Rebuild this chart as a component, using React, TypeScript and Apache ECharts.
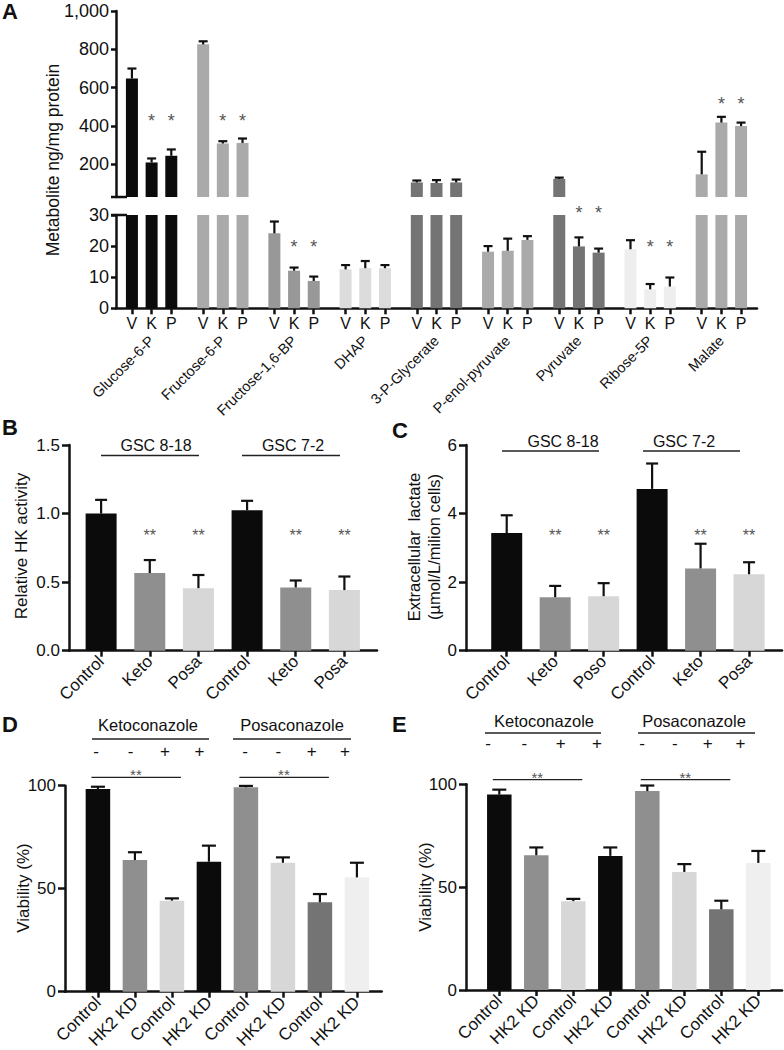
import React, { useEffect, useRef } from 'react';
import * as echarts from 'echarts';

const FONT = '"Liberation Sans", Arial, Helvetica, sans-serif';
const INK = '#111111';
const STAR = '#555555';

// ---------- Panel A: metabolites (V vehicle, K ketoconazole, P posaconazole)
const metabolites = ['Glucose-6-P', 'Fructose-6-P', 'Fructose-1,6-BP', 'DHAP', '3-P-Glycerate', 'P-enol-pyruvate', 'Pyruvate', 'Ribose-5P', 'Malate'];
const treatmentCodes = ['V', 'K', 'P'];
const metaboliteColors = ['#0b0b0b', '#aaaaaa', '#989898', '#dcdcdc', '#747474', '#aaaaaa', '#747474', '#eeeeee', '#aaaaaa'];
const vehicleValues = [648, 826, 24.1, 12.5, 106, 18.2, 124, 19.0, 148];
const ketoValues = [210, 309, 12.1, 12.9, 103, 18.5, 19.9, 6.1, 418];
const posaValues = [245, 312, 8.8, 12.9, 106, 22.0, 17.9, 7.0, 400];
const vehicleErr = [52, 16, 3.8, 1.4, 10, 1.8, 7, 2.9, 118];
const ketoErr = [21, 12, 1.0, 2.3, 15, 3.9, 2.9, 1.7, 30];
const posaErr = [33, 23, 1.4, 1.0, 15, 1.2, 1.3, 2.9, 18];
const starredMetabolites = [0, 1, 2, 6, 7, 8];
const starLevels = [446, 446, 21, 32, 21, 534];
const starSegments = ['upper', 'upper', 'lower', 'lower', 'lower', 'upper'];
const upperTicks = [200, 400, 600, 800, 1000];
const breakValue = 30;

// ---------- Panel B: HK activity
const hkLabels = ['Control', 'Keto', 'Posa', 'Control', 'Keto', 'Posa'];
const hkActivity = [1.0, 0.566, 0.456, 1.024, 0.461, 0.442];
const hkError = [0.10, 0.095, 0.096, 0.069, 0.051, 0.099];
const hkStarred = [1, 2, 4, 5];
const hkStarLevel = 0.87;

// ---------- Panel C: lactate
const lactateLabels = ['Control', 'Keto', 'Poso', 'Control', 'Keto', 'Posa'];
const lactate = [3.43, 1.56, 1.59, 4.72, 2.40, 2.23];
const lactateErr = [0.52, 0.33, 0.38, 0.74, 0.72, 0.35];
const lactateStarred = [1, 2, 4, 5];
const lactateStarLevel = 3.48;

const treatmentColors = ['#0b0b0b', '#8f8f8f', '#d7d7d7', '#0b0b0b', '#8f8f8f', '#d7d7d7'];

// ---------- Panels D, E: viability
const viabilityLabels = ['Control', 'HK2 KD', 'Control', 'HK2 KD', 'Control', 'HK2 KD', 'Control', 'HK2 KD'];
const viabilityColors = ['#0b0b0b', '#8f8f8f', '#d7d7d7', '#0b0b0b', '#8f8f8f', '#d7d7d7', '#747474', '#efefef'];
const drugSigns = ['-', '-', '+', '+'];
const viabilityD = [98.4, 63.9, 44.2, 63.1, 99.2, 62.6, 43.4, 55.5];
const viabilityDErr = [1.1, 3.8, 1.1, 7.8, 0.7, 2.6, 4.0, 7.1];
const viabilityE = [95.0, 65.5, 43.2, 65.2, 96.7, 57.4, 39.2, 61.8];
const viabilityEErr = [2.4, 3.8, 1.1, 4.1, 2.7, 3.8, 4.2, 5.8];
const sigPairs = [[0, 2], [4, 6]];
const sigLevelD = 104;
const sigLevelE = 102.3;

function buildOption() {
  const axisLine = { show: true, onZero: false, lineStyle: { color: INK, width: 2.5 } };
  const tick = (len: number, extra: any = {}) => ({ show: true, inside: false, length: len, lineStyle: { color: INK, width: 2.5 }, ...extra });
  const lbl = (extra: any = {}) => ({ color: INK, fontFamily: FONT, fontSize: 17, ...extra });
  const noSplit = { show: false };

  const A_LEFT = 116;
  const A_W = 641;
  const A_CAT = A_W / metabolites.length;
  const A_BAR = 12;
  const A_STEP = A_BAR * 1.64;
  const subUnit = A_STEP / A_CAT;
  const vkpPositions = metabolites.flatMap((_, i) => treatmentCodes.map((__, j) => i + 0.5 + (j - 1) * subUnit));

  const grids = [
    { left: A_LEFT, top: 11, width: A_W, height: 186 },
    { left: A_LEFT, top: 215, width: A_W, height: 93.3 },
    { left: 69, top: 445, width: 308, height: 205.7 },
    { left: 466, top: 445, width: 316, height: 205.7 },
    { left: 65, top: 785.7, width: 316.7, height: 206 },
    { left: 466, top: 784.3, width: 316, height: 205.7 },
  ].map((g) => ({ ...g, containLabel: false, outerBoundsMode: 'none' }));

  const valueXAxis = (gi: number, labels: string[], min: number, max: number) => {
    const pos = labels.map((_, i) => i);
    return {
      gridIndex: gi, type: 'value', min, max,
      axisLine, splitLine: noSplit,
      axisTick: tick(6, { customValues: pos }),
      axisLabel: lbl({ customValues: pos, rotate: 45, margin: 8, fontSize: 17, formatter: (v: number) => labels[Math.round(v)] }),
    };
  };

  const xAxes = [
    { gridIndex: 0, type: 'category', data: metabolites, show: false },
    {
      gridIndex: 1, type: 'category', data: metabolites, position: 'bottom',
      axisLine, axisTick: { show: false },
      axisLabel: lbl({ interval: 0, rotate: 45, margin: 30, fontSize: 14.5 }),
    },
    {
      gridIndex: 1, type: 'value', min: 0, max: metabolites.length, position: 'bottom',
      axisLine: { show: false }, splitLine: noSplit,
      axisTick: tick(6, { customValues: vkpPositions }),
      axisLabel: lbl({
        customValues: vkpPositions, margin: 7, fontSize: 16,
        formatter: (v: number) => {
          const i = Math.floor(v);
          const j = Math.round((v - i - 0.5) / subUnit) + 1;
          return treatmentCodes[j] || '';
        },
      }),
    },
    valueXAxis(2, hkLabels, -0.66, 5.67),
    valueXAxis(3, lactateLabels, -0.84, 5.68),
    valueXAxis(4, viabilityLabels, -0.89, 7.67),
    valueXAxis(5, viabilityLabels, -0.9, 7.64),
  ];

  const yAxes = [
    {
      gridIndex: 0, type: 'value', min: breakValue, max: 1000, axisLine, splitLine: noSplit,
      axisTick: tick(5, { customValues: upperTicks }),
      axisLabel: lbl({ customValues: upperTicks, margin: 7, fontSize: 18, formatter: (v: number) => v.toLocaleString('en-US') }),
    },
    {
      gridIndex: 1, type: 'value', min: 0, max: breakValue, interval: 10, axisLine, splitLine: noSplit,
      axisTick: tick(5), axisLabel: lbl({ margin: 7, fontSize: 18 }),
    },
    {
      gridIndex: 2, type: 'value', min: 0, max: 1.5, interval: 0.5, axisLine, splitLine: noSplit,
      axisTick: tick(7), axisLabel: lbl({ margin: 9, formatter: (v: number) => v.toFixed(1) }),
    },
    {
      gridIndex: 3, type: 'value', min: 0, max: 6, interval: 2, axisLine, splitLine: noSplit,
      axisTick: tick(7), axisLabel: lbl({ margin: 9 }),
    },
    {
      gridIndex: 4, type: 'value', min: 0, max: 100, interval: 50, axisLine, splitLine: noSplit,
      axisTick: tick(7), axisLabel: lbl({ margin: 9 }),
    },
    {
      gridIndex: 5, type: 'value', min: 0, max: 100, interval: 50, axisLine, splitLine: noSplit,
      axisTick: tick(7), axisLabel: lbl({ margin: 9 }),
    },
  ];

  const groupsA = [vehicleValues, ketoValues, posaValues];
  const errsA = [vehicleErr, ketoErr, posaErr];

  const barsA: any[] = [];
  treatmentCodes.forEach((code, j) => {
    barsA.push({
      type: 'bar', name: code + '-upper', xAxisIndex: 0, yAxisIndex: 0, barWidth: A_BAR, barGap: '64%',
      data: groupsA[j].map((v, i) => ({ value: v > breakValue ? v : '-', itemStyle: { color: metaboliteColors[i] } })),
    });
    barsA.push({
      type: 'bar', name: code + '-lower', xAxisIndex: 1, yAxisIndex: 1, barWidth: A_BAR, barGap: '64%',
      data: groupsA[j].map((v, i) => ({ value: v, itemStyle: { color: metaboliteColors[i] } })),
    });
  });

  const errItemsA = (upper: boolean) =>
    groupsA.flatMap((vals, j) => vals.map((v, i) => [i, j, v, v + errsA[j][i]]))
      .filter((d) => (upper ? d[2] > breakValue : d[2] <= breakValue));

  const errLineStyle = { stroke: INK, lineWidth: 2.2 };

  const renderErrA = (_: any, api: any) => {
    const cat = api.value(0);
    const sub = api.value(1);
    const p0 = api.coord([cat, api.value(2)]);
    const p1 = api.coord([cat, api.value(3)]);
    const x = p0[0] + (sub - 1) * A_STEP;
    return {
      type: 'group', children: [
        { type: 'line', shape: { x1: x, y1: p0[1], x2: x, y2: p1[1] }, style: errLineStyle },
        { type: 'line', shape: { x1: x - 4.5, y1: p1[1], x2: x + 4.5, y2: p1[1] }, style: errLineStyle },
      ],
    };
  };

  const starText = (x: number, y: number, text: string, fs: number) => ({
    type: 'text', x, y: y + 0.23 * fs,
    style: { text, fill: STAR, fontSize: fs, fontFamily: FONT, align: 'center', verticalAlign: 'middle' },
  });

  const starItemsA = (seg: string) =>
    starredMetabolites.flatMap((g, k) => (starSegments[k] === seg ? [[g, 1, starLevels[k]], [g, 2, starLevels[k]]] : []));

  const renderStarA = (_: any, api: any) => {
    const p = api.coord([api.value(0), api.value(2)]);
    return starText(p[0] + (api.value(1) - 1) * A_STEP, p[1], '*', 18);
  };

  const errSeries = (xi: number, yi: number, vals: number[], errs: number[], cap: number) => ({
    type: 'custom', xAxisIndex: xi, yAxisIndex: yi, encode: { x: 0, y: 1 }, z: 5,
    data: vals.map((v, i) => [i, v, v + errs[i]]),
    renderItem: (_: any, api: any) => {
      const p0 = api.coord([api.value(0), api.value(1)]);
      const p1 = api.coord([api.value(0), api.value(2)]);
      return {
        type: 'group', children: [
          { type: 'line', shape: { x1: p0[0], y1: p0[1], x2: p0[0], y2: p1[1] }, style: errLineStyle },
          { type: 'line', shape: { x1: p0[0] - cap / 2, y1: p1[1], x2: p0[0] + cap / 2, y2: p1[1] }, style: errLineStyle },
        ],
      };
    },
  });

  const barSeries = (xi: number, yi: number, vals: number[], colors: string[], width: number) => ({
    type: 'bar', xAxisIndex: xi, yAxisIndex: yi, barWidth: width,
    data: vals.map((v, i) => ({ value: [i, v], itemStyle: { color: colors[i] } })),
  });

  const starSeries = (xi: number, yi: number, idx: number[], level: number) => ({
    type: 'custom', xAxisIndex: xi, yAxisIndex: yi, encode: { x: 0, y: 1 }, z: 5,
    data: idx.map((i) => [i, level]),
    renderItem: (_: any, api: any) => {
      const p = api.coord([api.value(0), api.value(1)]);
      return starText(p[0], p[1], '**', 16);
    },
  });

  const sigSeries = (xi: number, yi: number, level: number) => ({
    type: 'custom', xAxisIndex: xi, yAxisIndex: yi, encode: { x: [0, 1], y: 2 }, z: 5,
    data: sigPairs.map(([a, b]) => [a, b, level]),
    renderItem: (_: any, api: any) => {
      const a = api.coord([api.value(0), api.value(2)]);
      const b = api.coord([api.value(1), api.value(2)]);
      return {
        type: 'group', children: [
          { type: 'line', shape: { x1: a[0] - 6.5, y1: a[1], x2: b[0] + 9, y2: a[1] }, style: { stroke: '#222', lineWidth: 1.3 } },
          starText((a[0] + b[0]) / 2 + 1, a[1] - 6, '**', 15),
        ],
      };
    },
  });

  const series: any[] = [
    ...barsA,
    { type: 'custom', xAxisIndex: 0, yAxisIndex: 0, encode: { x: 0, y: 2 }, z: 5, data: errItemsA(true), renderItem: renderErrA },
    { type: 'custom', xAxisIndex: 1, yAxisIndex: 1, encode: { x: 0, y: 2 }, z: 5, data: errItemsA(false), renderItem: renderErrA },
    { type: 'custom', xAxisIndex: 0, yAxisIndex: 0, encode: { x: 0, y: 2 }, z: 5, data: starItemsA('upper'), renderItem: renderStarA },
    { type: 'custom', xAxisIndex: 1, yAxisIndex: 1, encode: { x: 0, y: 2 }, z: 5, data: starItemsA('lower'), renderItem: renderStarA },

    barSeries(3, 2, hkActivity, treatmentColors, 31),
    errSeries(3, 2, hkActivity, hkError, 12),
    starSeries(3, 2, hkStarred, hkStarLevel),

    barSeries(4, 3, lactate, treatmentColors, 31),
    errSeries(4, 3, lactate, lactateErr, 12),
    starSeries(4, 3, lactateStarred, lactateStarLevel),

    barSeries(5, 4, viabilityD, viabilityColors, 24.5),
    errSeries(5, 4, viabilityD, viabilityDErr, 14),
    sigSeries(5, 4, sigLevelD),

    barSeries(6, 5, viabilityE, viabilityColors, 24.5),
    errSeries(6, 5, viabilityE, viabilityEErr, 14),
    sigSeries(6, 5, sigLevelE),
  ];

  // ---------- annotations (layout)
  const text = (t: string, x: number, y: number, fs: number, extra: any = {}) => ({
    type: 'text', x, y, silent: true,
    style: { text: t, fill: INK, fontSize: fs, fontFamily: FONT, align: 'center', verticalAlign: 'middle', ...extra },
  });
  const vtext = (t: string, x: number, y: number, fs: number, extra: any = {}) => ({
    ...text(t, x, y, fs, extra), rotation: Math.PI / 2,
  });
  const hline = (x1: number, x2: number, y: number, w = 1.3, color = '#222') => ({
    type: 'line', silent: true, shape: { x1, y1: y, x2, y2: y }, style: { stroke: color, lineWidth: w },
  });
  const signs = (x0: number, step: number, y: number) =>
    drugSigns.map((s, i) => text(s, x0 + i * step, y, 17));

  const graphic = [
    text('A', 2, 11, 22, { fontWeight: 'bold', align: 'left' }),
    text('B', 2, 427, 22, { fontWeight: 'bold', align: 'left' }),
    text('C', 392, 430, 22, { fontWeight: 'bold', align: 'left' }),
    text('D', 2, 724, 22, { fontWeight: 'bold', align: 'left' }),
    text('E', 392, 724, 22, { fontWeight: 'bold', align: 'left' }),

    vtext('Metabolite ng/mg protein', 53, 160, 17.5),
    vtext('Relative HK activity', 21, 546, 17),
    vtext('Extracellular  lactate\n(\u00b5mol/L/milion cells)', 424, 547, 16.5, { lineHeight: 20 }),
    vtext('Viability (%)', 23, 888, 17),
    vtext('Viability (%)', 425, 887, 17),

    hline(111, 127, 197, 2.5, INK),
    hline(111, 127, 215, 2.5, INK),

    text('GSC 8-18', 156, 445, 16),
    hline(101, 199, 455.5),
    text('GSC 7-2', 293, 445, 16),
    hline(242, 340, 455.5),

    text('GSC 8-18', 563, 441, 16),
    hline(502, 599, 451),
    text('GSC 7-2', 684, 441, 16),
    hline(643, 740, 451),

    text('Ketoconazole', 148, 725, 16.5),
    hline(92, 209, 739),
    text('Posaconazole', 292, 725, 16.5),
    hline(233, 351, 739),
    ...signs(96, 34.5, 751),
    ...signs(245, 33.3, 751),

    text('Ketoconazole', 544, 721, 16.5),
    hline(485, 601, 733),
    text('Posaconazole', 694, 721, 16.5),
    hline(638, 755, 733),
    ...signs(488, 36.3, 743),
    ...signs(642, 32.8, 743),
  ];

  return {
    animation: false,
    backgroundColor: '#ffffff',
    textStyle: { fontFamily: FONT },
    grid: grids,
    xAxis: xAxes,
    yAxis: yAxes,
    series,
    graphic,
  };
}

export default function App() {
  const ref = useRef<HTMLDivElement>(null);
  useEffect(() => {
    if (!ref.current) return;
    const chart = echarts.init(ref.current, null, { renderer: 'svg' });
    chart.setOption(buildOption() as any);
    return () => chart.dispose();
  }, []);
  return (
    <div
      ref={ref}
      style={{ position: 'absolute', left: 0, top: 0, width: 784, height: 1050, background: '#ffffff' }}
    />
  );
}
